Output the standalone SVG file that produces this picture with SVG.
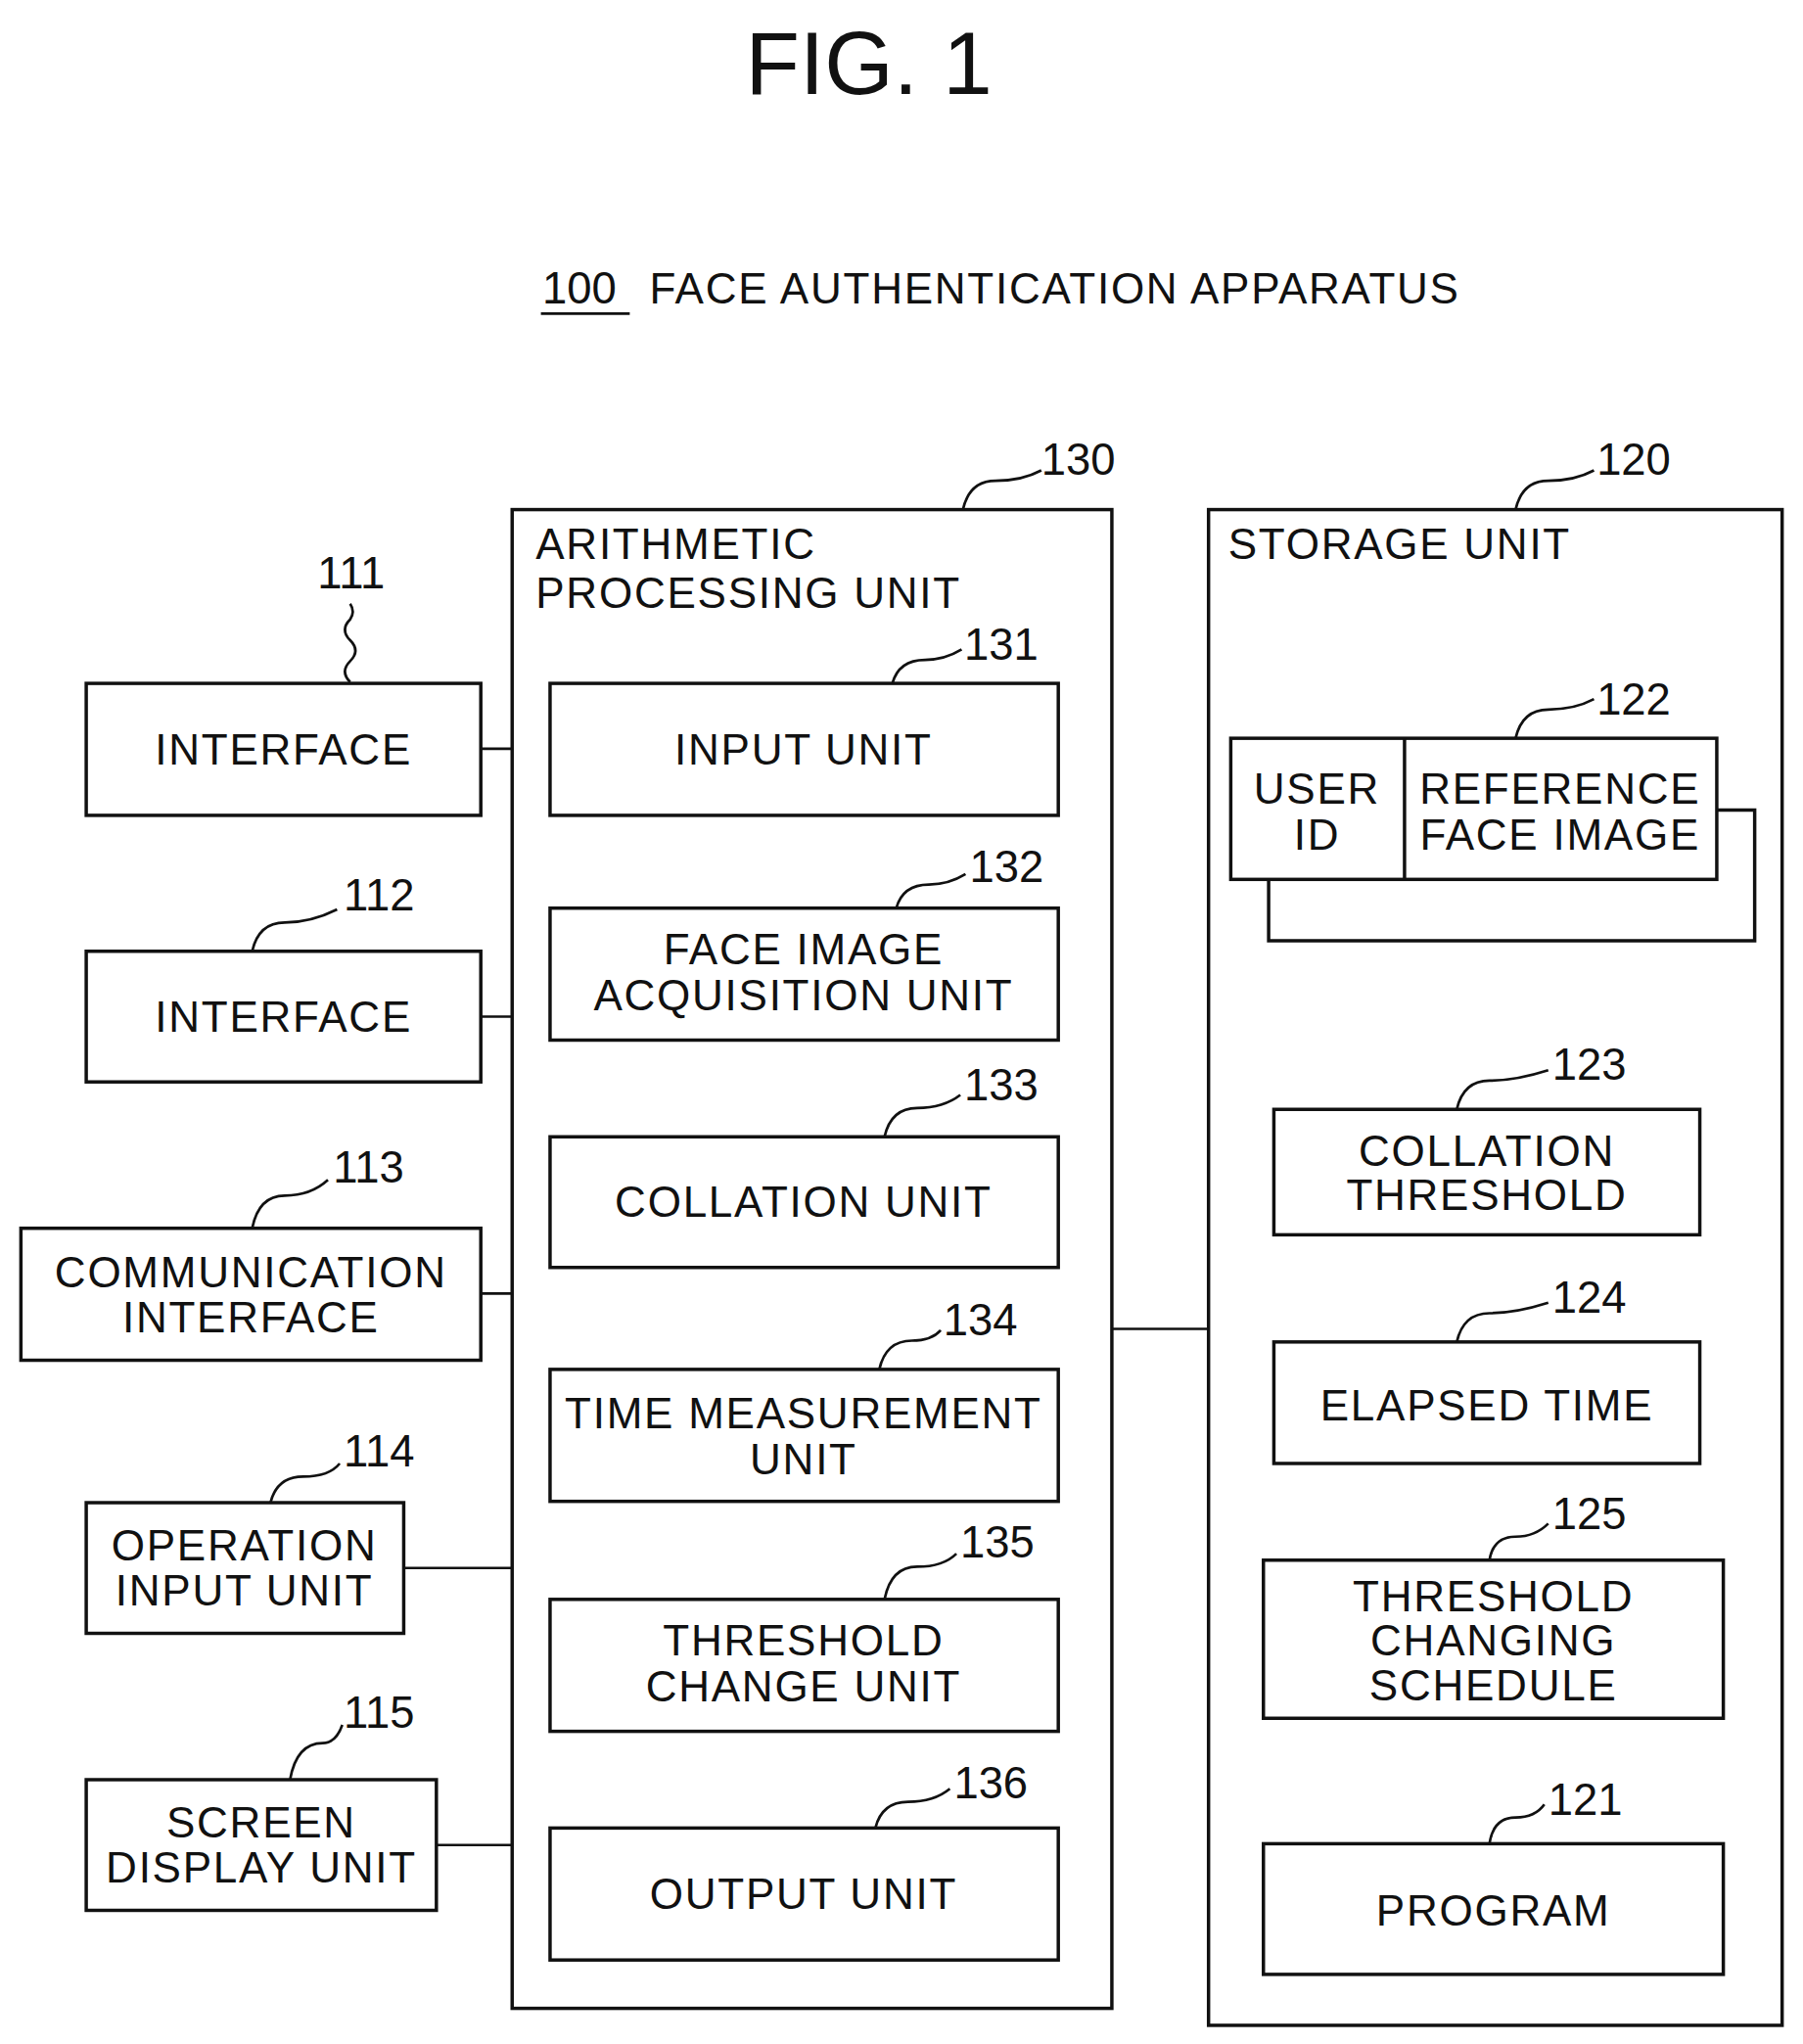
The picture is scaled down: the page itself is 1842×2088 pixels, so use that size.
<svg xmlns="http://www.w3.org/2000/svg" width="1842" height="2088" viewBox="0 0 1842 2088">
<style>
.b{fill:none;stroke:#111;stroke-width:2.6}
.c{fill:none;stroke:#111;stroke-width:2}
.t{font-family:"Liberation Sans",Arial,sans-serif;font-size:33px;fill:#111;text-anchor:middle;letter-spacing:1.3px}
.l{font-family:"Liberation Sans",Arial,sans-serif;font-size:34px;fill:#111}
.tl{font-family:"Liberation Sans",Arial,sans-serif;font-size:33px;fill:#111;letter-spacing:1.3px}
</style>
<rect width="1842" height="2088" fill="#fff"/>
<g transform="scale(1.3348)">
<text x="665" y="72" class="l" style="font-size:68px;text-anchor:middle">FIG. 1</text>
<g id="title100"><text x="415" y="232" class="l">100</text><line x1="414" y1="240" x2="482" y2="240" class="c"/><text x="497" y="232" class="tl">FACE AUTHENTICATION APPARATUS</text></g>
<g id="n130"><rect x="392" y="390" width="459" height="1147" class="b"/><text x="410" y="428" class="tl">ARITHMETIC</text><text x="410" y="465" class="tl">PROCESSING UNIT</text><path d="M737,390 q5,-22 25,-22 q20,0 35,-8" class="c"/><text x="797" y="363" class="l">130</text></g>
<g id="n120"><rect x="925" y="390" width="439" height="1160" class="b"/><text x="940" y="428" class="tl">STORAGE UNIT</text><path d="M1160,390 q5,-22 25,-22 q20,0 35,-8" class="c"/><text x="1222" y="363" class="l">120</text></g>
<g id="n131"><rect x="421" y="523" width="389" height="101" class="b"/><text x="615" y="585" class="t">INPUT UNIT</text><path d="M683,523 q5,-18 25,-18 q15,0 28,-8" class="c"/><text x="738" y="505" class="l">131</text></g>
<g id="n132"><rect x="421" y="695" width="389" height="101" class="b"/><text x="615" y="738" class="t">FACE IMAGE</text><text x="615" y="773" class="t">ACQUISITION UNIT</text><path d="M686,695 q5,-18 25,-18 q15,0 28,-8" class="c"/><text x="742" y="675" class="l">132</text></g>
<g id="n133"><rect x="421" y="870" width="389" height="100" class="b"/><text x="615" y="931" class="t">COLLATION UNIT</text><path d="M677,870 q5,-22 25,-22 q20,0 33,-10" class="c"/><text x="738" y="842" class="l">133</text></g>
<g id="n134"><rect x="421" y="1048" width="389" height="101" class="b"/><text x="615" y="1093" class="t">TIME MEASUREMENT</text><text x="615" y="1128" class="t">UNIT</text><path d="M673,1048 q5,-22 25,-22 q15,0 22,-8" class="c"/><text x="722" y="1022" class="l">134</text></g>
<g id="n135"><rect x="421" y="1224" width="389" height="101" class="b"/><text x="615" y="1267" class="t">THRESHOLD</text><text x="615" y="1302" class="t">CHANGE UNIT</text><path d="M677,1224 q5,-25 25,-25 q20,0 30,-10" class="c"/><text x="735" y="1192" class="l">135</text></g>
<g id="n136"><rect x="421" y="1399" width="389" height="101" class="b"/><text x="615" y="1461" class="t">OUTPUT UNIT</text><path d="M670,1399 q5,-20 25,-20 q20,0 32,-10" class="c"/><text x="730" y="1376" class="l">136</text></g>
<g id="n111"><rect x="66" y="523" width="302" height="101" class="b"/><text x="217" y="585" class="t">INTERFACE</text><path d="M268,522 q-8,-8 0,-16 q8,-8 0,-16 q-8,-8 0,-16 q4,-6 0,-12" class="c"/><text x="243" y="450" class="l">111</text></g>
<g id="n112"><rect x="66" y="728" width="302" height="100" class="b"/><text x="217" y="790" class="t">INTERFACE</text><path d="M193,728 q5,-22 25,-22 q20,0 40,-10" class="c"/><text x="263" y="697" class="l">112</text></g>
<g id="n113"><rect x="16" y="940" width="352" height="101" class="b"/><text x="192" y="985" class="t">COMMUNICATION</text><text x="192" y="1020" class="t">INTERFACE</text><path d="M193,940 q5,-25 25,-25 q20,0 33,-12" class="c"/><text x="255" y="905" class="l">113</text></g>
<g id="n114"><rect x="66" y="1150" width="243" height="100" class="b"/><text x="187" y="1194" class="t">OPERATION</text><text x="187" y="1229" class="t">INPUT UNIT</text><path d="M207,1150 q5,-20 25,-20 q20,0 28,-10" class="c"/><text x="263" y="1122" class="l">114</text></g>
<g id="n115"><rect x="66" y="1362" width="268" height="100" class="b"/><text x="200" y="1406" class="t">SCREEN</text><text x="200" y="1441" class="t">DISPLAY UNIT</text><path d="M222,1362 q5,-28 25,-28 q10,0 15,-14" class="c"/><text x="263" y="1322" class="l">115</text></g>
<g id="n122"><path d="M1314,620 H1343 V720 H971 V673" class="b"/><rect x="942" y="565" width="372" height="108" class="b"/><line x1="1075" y1="565" x2="1075" y2="673" class="b"/><text x="1008" y="615" class="t">USER</text><text x="1008" y="650" class="t">ID</text><text x="1194" y="615" class="t">REFERENCE</text><text x="1194" y="650" class="t">FACE IMAGE</text><path d="M1160,565 q5,-22 25,-22 q20,0 35,-8" class="c"/><text x="1222" y="547" class="l">122</text></g>
<g id="n123"><rect x="975" y="849" width="326" height="96" class="b"/><text x="1138" y="892" class="t">COLLATION</text><text x="1138" y="926" class="t">THRESHOLD</text><path d="M1115,849 q5,-22 25,-22 q20,0 45,-8" class="c"/><text x="1188" y="826" class="l">123</text></g>
<g id="n124"><rect x="975" y="1027" width="326" height="93" class="b"/><text x="1138" y="1087" class="t">ELAPSED TIME</text><path d="M1115,1027 q5,-22 25,-22 q20,0 45,-8" class="c"/><text x="1188" y="1005" class="l">124</text></g>
<g id="n125"><rect x="967" y="1194" width="352" height="121" class="b"/><text x="1143" y="1233" class="t">THRESHOLD</text><text x="1143" y="1267" class="t">CHANGING</text><text x="1143" y="1301" class="t">SCHEDULE</text><path d="M1140,1194 q3,-18 20,-18 q15,0 25,-10" class="c"/><text x="1188" y="1170" class="l">125</text></g>
<g id="n121"><rect x="967" y="1411" width="352" height="100" class="b"/><text x="1143" y="1474" class="t">PROGRAM</text><path d="M1140,1411 q3,-20 20,-20 q15,0 22,-10" class="c"/><text x="1185" y="1389" class="l">121</text></g>
<g id="connectors">
<line x1="368" y1="573" x2="392" y2="573" class="c"/>
<line x1="368" y1="778" x2="392" y2="778" class="c"/>
<line x1="368" y1="990" x2="392" y2="990" class="c"/>
<line x1="309" y1="1200" x2="392" y2="1200" class="c"/>
<line x1="334" y1="1412" x2="392" y2="1412" class="c"/>
<line x1="851" y1="1017" x2="925" y2="1017" class="c"/>
</g>
</g>
</svg>
